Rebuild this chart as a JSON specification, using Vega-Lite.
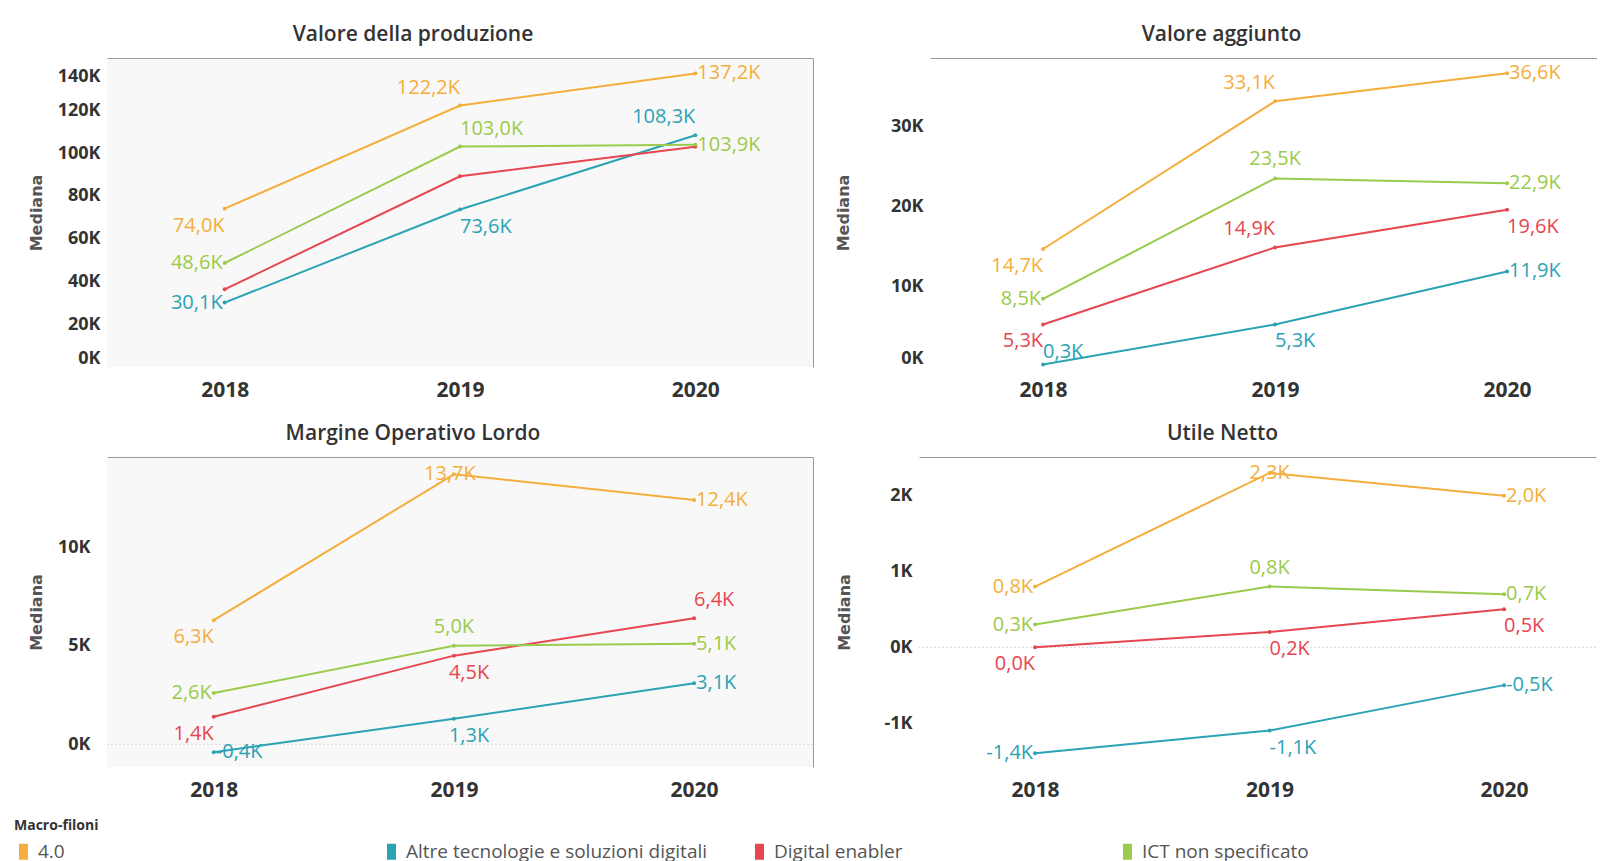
{
  "$schema": "https://vega.github.io/schema/vega-lite/v6.json",
  "padding": {"left": 14, "top": 24, "right": 0, "bottom": 0},
  "background": "white",
  "datasets": {
    "d": [
      {"indicatore": "Valore della produzione", "macro": "4.0", "anno": "2018", "mediana": 74.0},
      {"indicatore": "Valore della produzione", "macro": "4.0", "anno": "2019", "mediana": 122.2},
      {"indicatore": "Valore della produzione", "macro": "4.0", "anno": "2020", "mediana": 137.2},
      {"indicatore": "Valore della produzione", "macro": "Altre tecnologie e soluzioni digitali", "anno": "2018", "mediana": 30.1},
      {"indicatore": "Valore della produzione", "macro": "Altre tecnologie e soluzioni digitali", "anno": "2019", "mediana": 73.6},
      {"indicatore": "Valore della produzione", "macro": "Altre tecnologie e soluzioni digitali", "anno": "2020", "mediana": 108.3},
      {"indicatore": "Valore della produzione", "macro": "Digital enabler", "anno": "2018", "mediana": 36.3},
      {"indicatore": "Valore della produzione", "macro": "Digital enabler", "anno": "2019", "mediana": 89.1},
      {"indicatore": "Valore della produzione", "macro": "Digital enabler", "anno": "2020", "mediana": 102.9},
      {"indicatore": "Valore della produzione", "macro": "ICT non specificato", "anno": "2018", "mediana": 48.6},
      {"indicatore": "Valore della produzione", "macro": "ICT non specificato", "anno": "2019", "mediana": 103.0},
      {"indicatore": "Valore della produzione", "macro": "ICT non specificato", "anno": "2020", "mediana": 103.9},
      {"indicatore": "Valore aggiunto", "macro": "4.0", "anno": "2018", "mediana": 14.7},
      {"indicatore": "Valore aggiunto", "macro": "4.0", "anno": "2019", "mediana": 33.1},
      {"indicatore": "Valore aggiunto", "macro": "4.0", "anno": "2020", "mediana": 36.6},
      {"indicatore": "Valore aggiunto", "macro": "Altre tecnologie e soluzioni digitali", "anno": "2018", "mediana": 0.3},
      {"indicatore": "Valore aggiunto", "macro": "Altre tecnologie e soluzioni digitali", "anno": "2019", "mediana": 5.3},
      {"indicatore": "Valore aggiunto", "macro": "Altre tecnologie e soluzioni digitali", "anno": "2020", "mediana": 11.9},
      {"indicatore": "Valore aggiunto", "macro": "Digital enabler", "anno": "2018", "mediana": 5.3},
      {"indicatore": "Valore aggiunto", "macro": "Digital enabler", "anno": "2019", "mediana": 14.9},
      {"indicatore": "Valore aggiunto", "macro": "Digital enabler", "anno": "2020", "mediana": 19.6},
      {"indicatore": "Valore aggiunto", "macro": "ICT non specificato", "anno": "2018", "mediana": 8.5},
      {"indicatore": "Valore aggiunto", "macro": "ICT non specificato", "anno": "2019", "mediana": 23.5},
      {"indicatore": "Valore aggiunto", "macro": "ICT non specificato", "anno": "2020", "mediana": 22.9},
      {"indicatore": "Margine Operativo Lordo", "macro": "4.0", "anno": "2018", "mediana": 6.3},
      {"indicatore": "Margine Operativo Lordo", "macro": "4.0", "anno": "2019", "mediana": 13.7},
      {"indicatore": "Margine Operativo Lordo", "macro": "4.0", "anno": "2020", "mediana": 12.4},
      {"indicatore": "Margine Operativo Lordo", "macro": "Altre tecnologie e soluzioni digitali", "anno": "2018", "mediana": -0.4},
      {"indicatore": "Margine Operativo Lordo", "macro": "Altre tecnologie e soluzioni digitali", "anno": "2019", "mediana": 1.3},
      {"indicatore": "Margine Operativo Lordo", "macro": "Altre tecnologie e soluzioni digitali", "anno": "2020", "mediana": 3.1},
      {"indicatore": "Margine Operativo Lordo", "macro": "Digital enabler", "anno": "2018", "mediana": 1.4},
      {"indicatore": "Margine Operativo Lordo", "macro": "Digital enabler", "anno": "2019", "mediana": 4.5},
      {"indicatore": "Margine Operativo Lordo", "macro": "Digital enabler", "anno": "2020", "mediana": 6.4},
      {"indicatore": "Margine Operativo Lordo", "macro": "ICT non specificato", "anno": "2018", "mediana": 2.6},
      {"indicatore": "Margine Operativo Lordo", "macro": "ICT non specificato", "anno": "2019", "mediana": 5.0},
      {"indicatore": "Margine Operativo Lordo", "macro": "ICT non specificato", "anno": "2020", "mediana": 5.1},
      {"indicatore": "Utile Netto", "macro": "4.0", "anno": "2018", "mediana": 0.8},
      {"indicatore": "Utile Netto", "macro": "4.0", "anno": "2019", "mediana": 2.3},
      {"indicatore": "Utile Netto", "macro": "4.0", "anno": "2020", "mediana": 2.0},
      {"indicatore": "Utile Netto", "macro": "Altre tecnologie e soluzioni digitali", "anno": "2018", "mediana": -1.4},
      {"indicatore": "Utile Netto", "macro": "Altre tecnologie e soluzioni digitali", "anno": "2019", "mediana": -1.1},
      {"indicatore": "Utile Netto", "macro": "Altre tecnologie e soluzioni digitali", "anno": "2020", "mediana": -0.5},
      {"indicatore": "Utile Netto", "macro": "Digital enabler", "anno": "2018", "mediana": 0.0},
      {"indicatore": "Utile Netto", "macro": "Digital enabler", "anno": "2019", "mediana": 0.2},
      {"indicatore": "Utile Netto", "macro": "Digital enabler", "anno": "2020", "mediana": 0.5},
      {"indicatore": "Utile Netto", "macro": "ICT non specificato", "anno": "2018", "mediana": 0.3},
      {"indicatore": "Utile Netto", "macro": "ICT non specificato", "anno": "2019", "mediana": 0.8},
      {"indicatore": "Utile Netto", "macro": "ICT non specificato", "anno": "2020", "mediana": 0.7}
    ]
  },
  "spacing": 23,
  "vconcat": [
    {
      "spacing": 22,
      "hconcat": [
        {
          "width": 706, "height": 309,
          "view": {"fill": "#F8F8F8", "stroke": null},
          "title": {"text": "Valore della produzione", "dx": -47},
          "data": {"name": "d"},
          "transform": [
            {"filter": "datum.indicatore == 'Valore della produzione'"},
            {"calculate": "datum.macro + '|' + datum.anno", "as": "k"},
            {"calculate": "replace(replace(format(datum.mediana, '.1f'), '.', ','), '\u2212', '-') + 'K'", "as": "lbl"}
          ],
          "resolve": {"axis": {"x": "independent", "y": "independent"}},
          "layer": [
            {
              "mark": {"type": "point", "filled": true, "size": 16, "opacity": 1},
              "encoding": {
                "x": {"field": "anno", "type": "ordinal", "scale": {"type": "point", "padding": 0.5}, "axis": {"orient": "bottom", "title": null, "labelAngle": 0, "labelPadding": 12, "labelFontSize": 21}},
                "y": {"field": "mediana", "type": "quantitative", "scale": {"domain": [0, 144.4], "nice": false, "zero": false}, "axis": {"orient": "left", "title": "Mediana", "values": [0, 20, 40, 60, 80, 100, 120, 140], "labelExpr": "datum.value + 'K'", "labelFlush": 10, "labelPadding": 7, "titlePadding": 13}},
                "color": {"field": "macro", "type": "nominal", "scale": {"domain": ["4.0", "Altre tecnologie e soluzioni digitali", "Digital enabler", "ICT non specificato"], "range": ["#F4AE3C", "#2BA3B5", "#E6464F", "#9BCB4A"]},
                  "legend": {"title": "Macro-filoni", "orient": "none", "legendX": -93, "legendY": 761, "direction": "horizontal", "columns": 4, "gridAlign": "all", "columnPadding": 42, "symbolType": "M-0.5,-1H0.5V1H-0.5Z", "symbolSize": 196, "symbolOpacity": 1, "symbolStrokeWidth": 0, "labelOffset": 5, "labelLimit": 0, "labelFont": "Open Sans", "labelFontSize": 19, "labelColor": "#555", "titleFont": "Open Sans", "titleFontSize": 14, "titleFontWeight": "bold", "titleColor": "#333", "titlePadding": 9, "padding": 0}}
              }
            },
            {
              "mark": {"type": "line", "strokeWidth": 2},
              "encoding": {
                "x": {"field": "anno", "type": "ordinal", "scale": {"type": "point", "padding": 0.5}, "axis": {"orient": "top", "title": null, "labels": false, "domain": true, "domainColor": "#9a9a9a", "minExtent": 0}},
                "y": {"field": "mediana", "type": "quantitative", "scale": {"domain": [0, 144.4], "nice": false, "zero": false}, "axis": {"orient": "right", "title": null, "labels": false, "domain": true, "domainColor": "#9a9a9a", "minExtent": 0}},
                "color": {"field": "macro", "type": "nominal"}
              }
            },
            {
              "transform": [{"filter": {"field": "k", "oneOf": ["4.0|2018"]}}],
              "mark": {"type": "text", "align": "right", "dx": 0, "dy": 17},
              "encoding": {"x": {"field": "anno", "type": "ordinal", "axis": null}, "y": {"field": "mediana", "type": "quantitative", "axis": null}, "text": {"field": "lbl"}, "color": {"field": "macro", "type": "nominal"}}
            },
            {
              "transform": [{"filter": {"field": "k", "oneOf": ["4.0|2019", "Altre tecnologie e soluzioni digitali|2020"]}}],
              "mark": {"type": "text", "align": "right", "dx": 0, "dy": -18},
              "encoding": {"x": {"field": "anno", "type": "ordinal", "axis": null}, "y": {"field": "mediana", "type": "quantitative", "axis": null}, "text": {"field": "lbl"}, "color": {"field": "macro", "type": "nominal"}}
            },
            {
              "transform": [{"filter": {"field": "k", "oneOf": ["4.0|2020", "ICT non specificato|2020"]}}],
              "mark": {"type": "text", "align": "left", "dx": 2},
              "encoding": {"x": {"field": "anno", "type": "ordinal", "axis": null}, "y": {"field": "mediana", "type": "quantitative", "axis": null}, "text": {"field": "lbl"}, "color": {"field": "macro", "type": "nominal"}}
            },
            {
              "transform": [{"filter": {"field": "k", "oneOf": ["ICT non specificato|2018", "Altre tecnologie e soluzioni digitali|2018"]}}],
              "mark": {"type": "text", "align": "right", "dx": -2},
              "encoding": {"x": {"field": "anno", "type": "ordinal", "axis": null}, "y": {"field": "mediana", "type": "quantitative", "axis": null}, "text": {"field": "lbl"}, "color": {"field": "macro", "type": "nominal"}}
            },
            {
              "transform": [{"filter": {"field": "k", "oneOf": ["ICT non specificato|2019"]}}],
              "mark": {"type": "text", "align": "left", "dx": 0, "dy": -18},
              "encoding": {"x": {"field": "anno", "type": "ordinal", "axis": null}, "y": {"field": "mediana", "type": "quantitative", "axis": null}, "text": {"field": "lbl"}, "color": {"field": "macro", "type": "nominal"}}
            },
            {
              "transform": [{"filter": {"field": "k", "oneOf": ["Altre tecnologie e soluzioni digitali|2019"]}}],
              "mark": {"type": "text", "align": "left", "dx": 0, "dy": 17},
              "encoding": {"x": {"field": "anno", "type": "ordinal", "axis": null}, "y": {"field": "mediana", "type": "quantitative", "axis": null}, "text": {"field": "lbl"}, "color": {"field": "macro", "type": "nominal"}}
            }
          ]
        },
        {
          "width": 667, "height": 309,
          "title": {"text": "Valore aggiunto", "dx": -42},
          "data": {"name": "d"},
          "transform": [
            {"filter": "datum.indicatore == 'Valore aggiunto'"},
            {"calculate": "datum.macro + '|' + datum.anno", "as": "k"},
            {"calculate": "replace(replace(format(datum.mediana, '.1f'), '.', ','), '\u2212', '-') + 'K'", "as": "lbl"}
          ],
          "resolve": {"axis": {"x": "independent", "y": "independent"}},
          "layer": [
            {
              "mark": {"type": "point", "filled": true, "size": 16, "opacity": 1},
              "encoding": {
                "x": {"field": "anno", "type": "ordinal", "scale": {"type": "point", "padding": 0.4375, "align": 0.557}, "axis": {"orient": "bottom", "title": null, "labelAngle": 0, "labelPadding": 12, "labelFontSize": 21}},
                "y": {"field": "mediana", "type": "quantitative", "scale": {"domain": [0, 38.5], "nice": false, "zero": false}, "axis": {"orient": "left", "title": "Mediana", "values": [0, 10, 20, 30], "labelExpr": "datum.value + 'K'", "labelFlush": 10, "labelPadding": 7, "titlePadding": 39}},
                "color": {"field": "macro", "type": "nominal"}
              }
            },
            {
              "mark": {"type": "line", "strokeWidth": 2},
              "encoding": {
                "x": {"field": "anno", "type": "ordinal", "scale": {"type": "point", "padding": 0.4375, "align": 0.557}, "axis": {"orient": "top", "title": null, "labels": false, "domain": true, "domainColor": "#9a9a9a", "minExtent": 0}},
                "y": {"field": "mediana", "type": "quantitative", "axis": null},
                "color": {"field": "macro", "type": "nominal"}
              }
            },
            {
              "transform": [{"filter": {"field": "k", "oneOf": ["4.0|2018", "Digital enabler|2018"]}}],
              "mark": {"type": "text", "align": "right", "dx": 0, "dy": 17},
              "encoding": {"x": {"field": "anno", "type": "ordinal", "axis": null}, "y": {"field": "mediana", "type": "quantitative", "axis": null}, "text": {"field": "lbl"}, "color": {"field": "macro", "type": "nominal"}}
            },
            {
              "transform": [{"filter": {"field": "k", "oneOf": ["4.0|2019", "Digital enabler|2019"]}}],
              "mark": {"type": "text", "align": "right", "dx": 0, "dy": -18},
              "encoding": {"x": {"field": "anno", "type": "ordinal", "axis": null}, "y": {"field": "mediana", "type": "quantitative", "axis": null}, "text": {"field": "lbl"}, "color": {"field": "macro", "type": "nominal"}}
            },
            {
              "transform": [{"filter": {"field": "k", "oneOf": ["4.0|2020", "ICT non specificato|2020", "Altre tecnologie e soluzioni digitali|2020"]}}],
              "mark": {"type": "text", "align": "left", "dx": 2},
              "encoding": {"x": {"field": "anno", "type": "ordinal", "axis": null}, "y": {"field": "mediana", "type": "quantitative", "axis": null}, "text": {"field": "lbl"}, "color": {"field": "macro", "type": "nominal"}}
            },
            {
              "transform": [{"filter": {"field": "k", "oneOf": ["ICT non specificato|2018"]}}],
              "mark": {"type": "text", "align": "right", "dx": -2},
              "encoding": {"x": {"field": "anno", "type": "ordinal", "axis": null}, "y": {"field": "mediana", "type": "quantitative", "axis": null}, "text": {"field": "lbl"}, "color": {"field": "macro", "type": "nominal"}}
            },
            {
              "transform": [{"filter": {"field": "k", "oneOf": ["ICT non specificato|2019"]}}],
              "mark": {"type": "text", "align": "center", "dy": -19},
              "encoding": {"x": {"field": "anno", "type": "ordinal", "axis": null}, "y": {"field": "mediana", "type": "quantitative", "axis": null}, "text": {"field": "lbl"}, "color": {"field": "macro", "type": "nominal"}}
            },
            {
              "transform": [{"filter": {"field": "k", "oneOf": ["Digital enabler|2020", "Altre tecnologie e soluzioni digitali|2019"]}}],
              "mark": {"type": "text", "align": "left", "dx": 0, "dy": 17},
              "encoding": {"x": {"field": "anno", "type": "ordinal", "axis": null}, "y": {"field": "mediana", "type": "quantitative", "axis": null}, "text": {"field": "lbl"}, "color": {"field": "macro", "type": "nominal"}}
            },
            {
              "transform": [{"filter": {"field": "k", "oneOf": ["Altre tecnologie e soluzioni digitali|2018"]}}],
              "mark": {"type": "text", "align": "left", "dx": 0, "dy": -13},
              "encoding": {"x": {"field": "anno", "type": "ordinal", "axis": null}, "y": {"field": "mediana", "type": "quantitative", "axis": null}, "text": {"field": "lbl"}, "color": {"field": "macro", "type": "nominal"}}
            }
          ]
        }
      ]
    },
    {
      "spacing": 22,
      "hconcat": [
        {
          "width": 706, "height": 310,
          "view": {"fill": "#F8F8F8", "stroke": null},
          "title": {"text": "Margine Operativo Lordo", "dx": -47},
          "data": {"name": "d"},
          "transform": [
            {"filter": "datum.indicatore == 'Margine Operativo Lordo'"},
            {"calculate": "datum.macro + '|' + datum.anno", "as": "k"},
            {"calculate": "replace(replace(format(datum.mediana, '.1f'), '.', ','), '\u2212', '-') + 'K'", "as": "lbl"}
          ],
          "resolve": {"axis": {"x": "independent", "y": "independent"}},
          "layer": [
            {
              "data": {"values": [{}]},
              "mark": {"type": "rule", "color": "#d6d6d6", "strokeDash": [2, 2], "strokeWidth": 1},
              "encoding": {"y": {"datum": 0, "type": "quantitative", "axis": null}}
            },
            {
              "mark": {"type": "point", "filled": true, "size": 16, "opacity": 1},
              "encoding": {
                "x": {"field": "anno", "type": "ordinal", "scale": {"type": "point", "padding": 0.47, "align": 0.473}, "axis": {"orient": "bottom", "title": null, "labelAngle": 0, "labelPadding": 12, "labelFontSize": 21}},
                "y": {"field": "mediana", "type": "quantitative", "scale": {"domain": [-1.15, 14.58], "nice": false, "zero": false}, "axis": {"orient": "left", "title": "Mediana", "values": [0, 5, 10], "labelExpr": "datum.value + 'K'", "labelFlush": 10, "labelPadding": 17, "titlePadding": 13}},
                "color": {"field": "macro", "type": "nominal"}
              }
            },
            {
              "mark": {"type": "line", "strokeWidth": 2},
              "encoding": {
                "x": {"field": "anno", "type": "ordinal", "scale": {"type": "point", "padding": 0.47, "align": 0.473}, "axis": {"orient": "top", "title": null, "labels": false, "domain": true, "domainColor": "#9a9a9a", "minExtent": 0}},
                "y": {"field": "mediana", "type": "quantitative", "axis": {"orient": "right", "title": null, "labels": false, "domain": true, "domainColor": "#9a9a9a", "minExtent": 0}},
                "color": {"field": "macro", "type": "nominal"}
              }
            },
            {
              "transform": [{"filter": {"field": "k", "oneOf": ["4.0|2018", "Digital enabler|2018"]}}],
              "mark": {"type": "text", "align": "right", "dx": 0, "dy": 17},
              "encoding": {"x": {"field": "anno", "type": "ordinal", "axis": null}, "y": {"field": "mediana", "type": "quantitative", "axis": null}, "text": {"field": "lbl"}, "color": {"field": "macro", "type": "nominal"}}
            },
            {
              "transform": [{"filter": {"field": "k", "oneOf": ["4.0|2019"]}}],
              "mark": {"type": "text", "align": "center", "dx": -4, "dy": 0},
              "encoding": {"x": {"field": "anno", "type": "ordinal", "axis": null}, "y": {"field": "mediana", "type": "quantitative", "axis": null}, "text": {"field": "lbl"}, "color": {"field": "macro", "type": "nominal"}}
            },
            {
              "transform": [{"filter": {"field": "k", "oneOf": ["4.0|2020", "ICT non specificato|2020", "Altre tecnologie e soluzioni digitali|2020", "Altre tecnologie e soluzioni digitali|2018"]}}],
              "mark": {"type": "text", "align": "left", "dx": 2},
              "encoding": {"x": {"field": "anno", "type": "ordinal", "axis": null}, "y": {"field": "mediana", "type": "quantitative", "axis": null}, "text": {"field": "lbl"}, "color": {"field": "macro", "type": "nominal"}}
            },
            {
              "transform": [{"filter": {"field": "k", "oneOf": ["ICT non specificato|2018"]}}],
              "mark": {"type": "text", "align": "right", "dx": -2},
              "encoding": {"x": {"field": "anno", "type": "ordinal", "axis": null}, "y": {"field": "mediana", "type": "quantitative", "axis": null}, "text": {"field": "lbl"}, "color": {"field": "macro", "type": "nominal"}}
            },
            {
              "transform": [{"filter": {"field": "k", "oneOf": ["ICT non specificato|2019"]}}],
              "mark": {"type": "text", "align": "center", "dy": -19},
              "encoding": {"x": {"field": "anno", "type": "ordinal", "axis": null}, "y": {"field": "mediana", "type": "quantitative", "axis": null}, "text": {"field": "lbl"}, "color": {"field": "macro", "type": "nominal"}}
            },
            {
              "transform": [{"filter": {"field": "k", "oneOf": ["Digital enabler|2019", "Altre tecnologie e soluzioni digitali|2019"]}}],
              "mark": {"type": "text", "align": "left", "dx": -5, "dy": 17},
              "encoding": {"x": {"field": "anno", "type": "ordinal", "axis": null}, "y": {"field": "mediana", "type": "quantitative", "axis": null}, "text": {"field": "lbl"}, "color": {"field": "macro", "type": "nominal"}}
            },
            {
              "transform": [{"filter": {"field": "k", "oneOf": ["Digital enabler|2020"]}}],
              "mark": {"type": "text", "align": "left", "dx": 0, "dy": -18},
              "encoding": {"x": {"field": "anno", "type": "ordinal", "axis": null}, "y": {"field": "mediana", "type": "quantitative", "axis": null}, "text": {"field": "lbl"}, "color": {"field": "macro", "type": "nominal"}}
            }
          ]
        },
        {
          "width": 677, "height": 310,
          "title": {"text": "Utile Netto", "dx": -35},
          "data": {"name": "d"},
          "transform": [
            {"filter": "datum.indicatore == 'Utile Netto'"},
            {"calculate": "datum.macro + '|' + datum.anno", "as": "k"},
            {"calculate": "replace(replace(format(datum.mediana, '.1f'), '.', ','), '\u2212', '-') + 'K'", "as": "lbl"}
          ],
          "resolve": {"axis": {"x": "independent", "y": "independent"}},
          "layer": [
            {
              "data": {"values": [{}]},
              "mark": {"type": "rule", "color": "#d6d6d6", "strokeDash": [2, 2], "strokeWidth": 1},
              "encoding": {"y": {"datum": 0, "type": "quantitative", "axis": null}}
            },
            {
              "mark": {"type": "point", "filled": true, "size": 16, "opacity": 1},
              "encoding": {
                "x": {"field": "anno", "type": "ordinal", "scale": {"type": "point", "padding": 0.4435, "align": 0.558}, "axis": {"orient": "bottom", "title": null, "labelAngle": 0, "labelPadding": 12, "labelFontSize": 21}},
                "y": {"field": "mediana", "type": "quantitative", "scale": {"domain": [-1.58, 2.51], "nice": false, "zero": false}, "axis": {"orient": "left", "title": "Mediana", "values": [-1, 0, 1, 2], "labelExpr": "datum.value + 'K'", "labelFlush": 10, "labelPadding": 7, "titlePadding": 31}},
                "color": {"field": "macro", "type": "nominal"}
              }
            },
            {
              "mark": {"type": "line", "strokeWidth": 2},
              "encoding": {
                "x": {"field": "anno", "type": "ordinal", "scale": {"type": "point", "padding": 0.4435, "align": 0.558}, "axis": {"orient": "top", "title": null, "labels": false, "domain": true, "domainColor": "#9a9a9a", "minExtent": 0}},
                "y": {"field": "mediana", "type": "quantitative", "axis": null},
                "color": {"field": "macro", "type": "nominal"}
              }
            },
            {
              "transform": [{"filter": {"field": "k", "oneOf": ["4.0|2018", "ICT non specificato|2018", "Altre tecnologie e soluzioni digitali|2018"]}}],
              "mark": {"type": "text", "align": "right", "dx": -2},
              "encoding": {"x": {"field": "anno", "type": "ordinal", "axis": null}, "y": {"field": "mediana", "type": "quantitative", "axis": null}, "text": {"field": "lbl"}, "color": {"field": "macro", "type": "nominal"}}
            },
            {
              "transform": [{"filter": {"field": "k", "oneOf": ["4.0|2019"]}}],
              "mark": {"type": "text", "align": "center", "dx": 0, "dy": 0},
              "encoding": {"x": {"field": "anno", "type": "ordinal", "axis": null}, "y": {"field": "mediana", "type": "quantitative", "axis": null}, "text": {"field": "lbl"}, "color": {"field": "macro", "type": "nominal"}}
            },
            {
              "transform": [{"filter": {"field": "k", "oneOf": ["4.0|2020", "ICT non specificato|2020", "Altre tecnologie e soluzioni digitali|2020"]}}],
              "mark": {"type": "text", "align": "left", "dx": 2},
              "encoding": {"x": {"field": "anno", "type": "ordinal", "axis": null}, "y": {"field": "mediana", "type": "quantitative", "axis": null}, "text": {"field": "lbl"}, "color": {"field": "macro", "type": "nominal"}}
            },
            {
              "transform": [{"filter": {"field": "k", "oneOf": ["ICT non specificato|2019"]}}],
              "mark": {"type": "text", "align": "center", "dy": -19},
              "encoding": {"x": {"field": "anno", "type": "ordinal", "axis": null}, "y": {"field": "mediana", "type": "quantitative", "axis": null}, "text": {"field": "lbl"}, "color": {"field": "macro", "type": "nominal"}}
            },
            {
              "transform": [{"filter": {"field": "k", "oneOf": ["Digital enabler|2018"]}}],
              "mark": {"type": "text", "align": "right", "dx": 0, "dy": 17},
              "encoding": {"x": {"field": "anno", "type": "ordinal", "axis": null}, "y": {"field": "mediana", "type": "quantitative", "axis": null}, "text": {"field": "lbl"}, "color": {"field": "macro", "type": "nominal"}}
            },
            {
              "transform": [{"filter": {"field": "k", "oneOf": ["Digital enabler|2019", "Digital enabler|2020", "Altre tecnologie e soluzioni digitali|2019"]}}],
              "mark": {"type": "text", "align": "left", "dx": 0, "dy": 17},
              "encoding": {"x": {"field": "anno", "type": "ordinal", "axis": null}, "y": {"field": "mediana", "type": "quantitative", "axis": null}, "text": {"field": "lbl"}, "color": {"field": "macro", "type": "nominal"}}
            }
          ]
        }
      ]
    }
  ],
  "config": {
    "view": {"stroke": null},
    "font": "Open Sans",
    "title": {"font": "Open Sans", "fontSize": 21, "fontWeight": 600, "color": "#333", "offset": 13, "anchor": "middle"},
    "axis": {"grid": false, "ticks": false, "domain": false, "labelFont": "Open Sans", "labelFontWeight": "bold", "labelFontSize": 18, "labelColor": "#333", "titleFont": "DejaVu Sans", "titleFontWeight": "bold", "titleFontSize": 16, "titleColor": "#555"},
    "text": {"font": "Open Sans", "fontSize": 20},
    "line": {"strokeWidth": 2}
  }
}
